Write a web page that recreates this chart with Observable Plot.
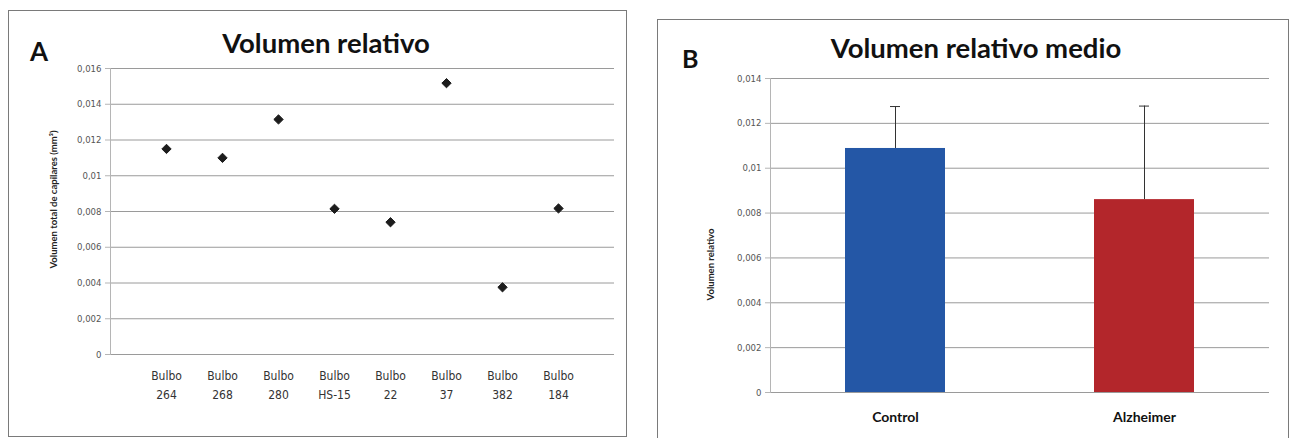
<!DOCTYPE html>
<html>
<head>
<meta charset="utf-8">
<script src="https://cdn.jsdelivr.net/npm/d3@7"></script>
<script src="https://cdn.jsdelivr.net/npm/@observablehq/plot@0.6"></script>
<style>
  html, body { margin: 0; padding: 0; background: #fff; }
  body { width: 1292px; height: 438px; position: relative; overflow: hidden; font-family: Lato, "Open Sans", sans-serif; }
  .panel { position: absolute; border: 1px solid #7a7a7a; box-sizing: border-box; background: #fff; }
  .title { position: absolute; font-weight: 700; line-height: 1; color: #111; white-space: nowrap; text-align: center; }
  .letter { position: absolute; font-weight: 700; font-size: 25px; line-height: 1; color: #111; }
  .chart { position: absolute; }
</style>
</head>
<body>
<div class="panel" style="left:8px; top:10px; width:619px; height:427px;"></div>
<div class="panel" style="left:657px; top:19px; width:632px; height:425px;"></div>
<div class="letter" style="left:30px; top:38px; font-size:26px;">A</div>
<div class="title" style="left:126px; width:400px; top:29px; font-size:27.5px;">Volumen relativo</div>
<div class="letter" style="left:682px; top:46px;">B</div>
<div class="title" style="left:776px; width:400px; top:34px; font-size:27.5px;">Volumen relativo medio</div>
<div id="chartA" class="chart" style="left:8px; top:58px;"></div>
<div id="chartB" class="chart" style="left:658px; top:66px;"></div>
<script>
// ---- Panel A data ----
const catsA = ["Bulbo\n264", "Bulbo\n268", "Bulbo\n280", "Bulbo\nHS-15", "Bulbo\n22", "Bulbo\n37", "Bulbo\n382", "Bulbo\n184"];
const valuesA = [0.0115, 0.0110, 0.01315, 0.00815, 0.0074, 0.01518, 0.00376, 0.00817];
const ticksA = [0, 0.002, 0.004, 0.006, 0.008, 0.01, 0.012, 0.014, 0.016];
const yLabelA = "Volumen total de capilares (mm³)";

// ---- Panel B data ----
const groupsB = ["Control", "Alzheimer"];
const meansB = [0.01088, 0.0086];
const errorsB = [0.00187, 0.00417];
const colorsB = ["#2457a6", "#b3262b"];
const ticksB = [0, 0.002, 0.004, 0.006, 0.008, 0.01, 0.012, 0.014];
const yLabelB = "Volumen relativo";

const fmt = d => String(+(+d).toFixed(3)).replace(".", ",");

const dataA = catsA.map((c, i) => ({name: c, value: valuesA[i]}));
const dataB = groupsB.map((g, i) => ({name: g, mean: meansB[i], err: errorsB[i], top: meansB[i] + errorsB[i], color: colorsB[i]}));

const tickFont = "'Liberation Sans Narrow', 'DejaVu Sans Condensed', Lato, sans-serif";

const chartA = Plot.plot({
  width: 618, height: 370,
  marginLeft: 102, marginRight: 12, marginTop: 10, marginBottom: 74,
  style: {fontFamily: "Lato, sans-serif", background: "transparent", overflow: "visible"},
  x: {type: "point", domain: catsA, padding: 1},
  y: {domain: [0, 0.016]},
  marks: [
    Plot.gridY(ticksA, {stroke: "#9a9a9a", strokeOpacity: 1}),
    Plot.frame({anchor: "left", stroke: "#b5b5b5"}),
    Plot.axisY(ticksA, {tickSize: 5, tickPadding: 4, tickFormat: fmt, fontSize: 9.5, fill: "#555", stroke: "#b5b5b5", fontFamily: tickFont, label: null}),
    Plot.axisX({tickSize: 0, tickPadding: 12, fontSize: 12, fill: "#333", lineHeight: 1.6, label: null, fontFamily: tickFont}),
    Plot.text([yLabelA], {frameAnchor: "left", textAnchor: "middle", rotate: -90, dx: -57, dy: -12, fontSize: 9.5, fontWeight: "bold", fill: "#222"}),
    Plot.dot(dataA, {x: "name", y: "value", symbol: "diamond2", r: 4.2, fill: "#1c1c1c", stroke: "#1c1c1c", strokeWidth: 1, strokeLinejoin: "round"})
  ]
});
document.getElementById("chartA").appendChild(chartA);

const chartB = Plot.plot({
  width: 629, height: 372,
  marginLeft: 112, marginRight: 18, marginTop: 12, marginBottom: 46,
  style: {fontFamily: "Lato, sans-serif", background: "transparent", overflow: "visible"},
  x: {domain: groupsB, paddingInner: 0.6, paddingOuter: 0.3},
  y: {domain: [0, 0.014]},
  marks: [
    Plot.gridY(ticksB, {stroke: "#9a9a9a", strokeOpacity: 1}),
    Plot.frame({anchor: "left", stroke: "#b5b5b5"}),
    Plot.axisY(ticksB, {tickSize: 5, tickPadding: 4, tickFormat: fmt, fontSize: 9.5, fill: "#555", stroke: "#b5b5b5", fontFamily: tickFont, label: null}),
    Plot.barY(dataB, {x: "name", y: "mean", fill: "color"}),
    Plot.ruleX(dataB, {x: "name", y1: "mean", y2: "top", stroke: "#333", strokeWidth: 1}),
    Plot.tickY(dataB, {x: "name", y: "top", insetLeft: 45, insetRight: 45, stroke: "#333", strokeWidth: 1}),
    Plot.axisX({tickSize: 0, tickPadding: 20, fontSize: 14, fontWeight: "bold", fill: "#111", label: null}),
    Plot.text([yLabelB], {frameAnchor: "left", textAnchor: "middle", rotate: -90, dx: -60, dy: 29, fontSize: 9.5, fontWeight: "bold", fill: "#222"})
  ]
});
document.getElementById("chartB").appendChild(chartB);
</script>
</body>
</html>
